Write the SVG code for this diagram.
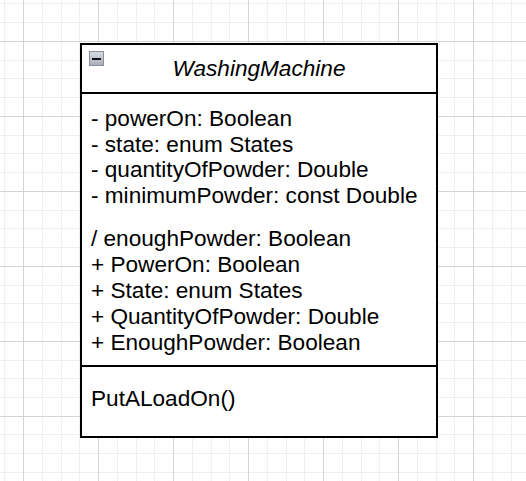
<svg xmlns="http://www.w3.org/2000/svg" width="526" height="481" viewBox="0 0 526 481">
  <style>
    .minor { stroke: #efefef; stroke-width: 1; fill: none; }
    .major { stroke: #d3d3d3; stroke-width: 1; fill: none; }
    .box { fill: #ffffff; stroke: #000000; stroke-width: 2; }
    .sep { stroke: #000000; stroke-width: 2; fill: none; }
    .txt { font-family: "Liberation Sans", Arial, sans-serif; font-size: 22.6px; fill: #000000; }
    .title { font-style: italic; text-anchor: middle; }
  </style>
  <defs>
    <linearGradient id="btnFill" x1="0" y1="0" x2="0" y2="1">
      <stop offset="0" stop-color="#d8dbe2"/>
      <stop offset="1" stop-color="#a9adb8"/>
    </linearGradient>
  </defs>

  <!-- background -->
  <rect x="0" y="0" width="526" height="481" fill="#ffffff"/>

  <!-- grid: minor lines -->
  <path class="minor" d="M4.5 0V481M42.5 0V481M61.5 0V481M79.5 0V481M117.5 0V481M136.5 0V481M154.5 0V481M192.5 0V481M211.5 0V481M229.5 0V481M267.5 0V481M286.5 0V481M304.5 0V481M342.5 0V481M361.5 0V481M379.5 0V481M417.5 0V481M436.5 0V481M454.5 0V481M492.5 0V481M511.5 0V481
    M0 3.5H526M0 22.5H526M0 60.5H526M0 78.5H526M0 97.5H526M0 135.5H526M0 153.5H526M0 172.5H526M0 210.5H526M0 228.5H526M0 247.5H526M0 285.5H526M0 303.5H526M0 322.5H526M0 360.5H526M0 378.5H526M0 397.5H526M0 434.5H526M0 453.5H526M0 472.5H526"/>
  <!-- grid: major lines -->
  <path class="major" d="M23.5 0V481M98.5 0V481M173.5 0V481M248.5 0V481M323.5 0V481M398.5 0V481M473.5 0V481
    M0 41.5H526M0 116.5H526M0 191.5H526M0 266.5H526M0 341.5H526M0 416.5H526"/>

  <!-- class node -->
  <g id="WashingMachine">
    <rect class="box" x="81" y="44" width="356" height="393"/>
    <line class="sep" x1="81" y1="93" x2="437" y2="93"/>
    <line class="sep" x1="81" y1="366" x2="437" y2="366"/>

    <!-- collapse button -->
    <g id="collapse-button">
      <rect x="89.5" y="51.5" width="14" height="14" fill="url(#btnFill)" stroke="#8c909c" stroke-width="1"/>
      <rect x="92" y="58" width="9" height="2" fill="#111111"/>
    </g>

    <text class="txt title" x="259" y="76">WashingMachine</text>

    <!-- attributes -->
    <text class="txt" x="91" y="125.7">- powerOn: Boolean</text>
    <text class="txt" x="91" y="151.5">- state: enum States</text>
    <text class="txt" x="91" y="177.3">- quantityOfPowder: Double</text>
    <text class="txt" x="91" y="203.3">- minimumPowder: const Double</text>
    <text class="txt" x="91" y="245.7">/ enoughPowder: Boolean</text>
    <text class="txt" x="91" y="271.7">+ PowerOn: Boolean</text>
    <text class="txt" x="91" y="297.7">+ State: enum States</text>
    <text class="txt" x="91" y="323.5">+ QuantityOfPowder: Double</text>
    <text class="txt" x="91" y="349.8">+ EnoughPowder: Boolean</text>

    <!-- operations -->
    <text class="txt" x="91" y="405.7">PutALoadOn()</text>
  </g>
</svg>
